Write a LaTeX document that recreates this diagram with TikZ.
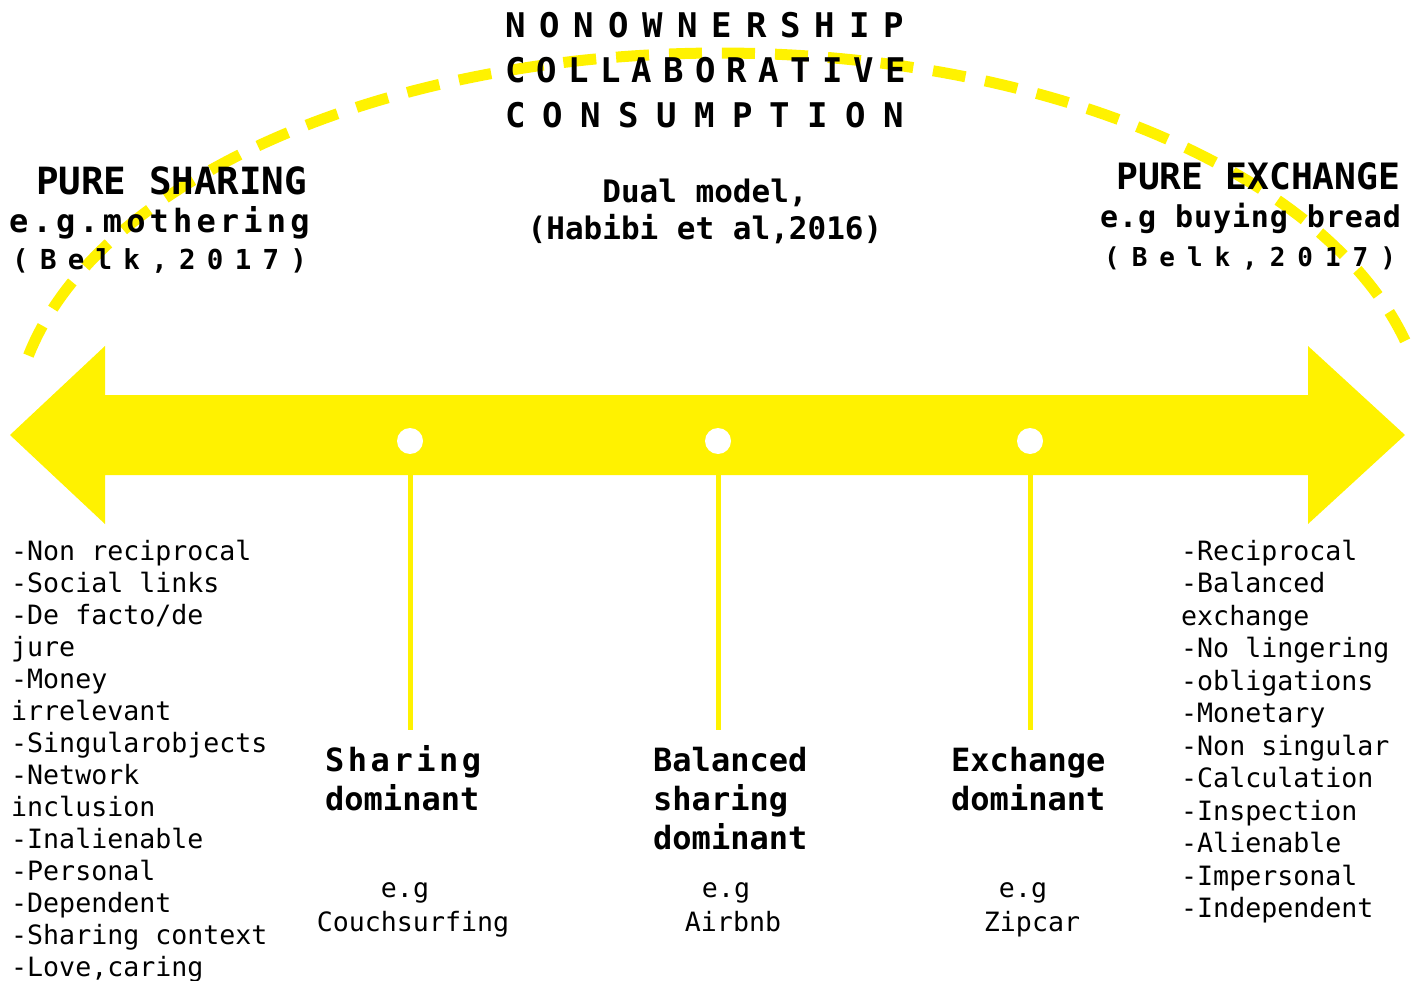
\documentclass[tikz,border=0pt]{standalone}
\usepackage{fontspec}
\setmonofont{DejaVu Sans Mono}
\usepackage{tikz}
\definecolor{bandyellow}{HTML}{FFF200}
\newcommand{\monoset}[2]{\fontsize{#1}{#1}\selectfont\addfontfeatures{LetterSpace=#2}}

\begin{document}
\begin{tikzpicture}[x=1pt,y=-1pt,
  txt/.style={inner sep=0pt,anchor=base west},
  listtext/.style={txt,font=\ttfamily\monoset{26.6}{0}},
  marktext/.style={txt,font=\ttfamily\bfseries\monoset{32}{0}},
  extext/.style={inner sep=0pt,anchor=base,font=\ttfamily\monoset{26.6}{0}}]
\useasboundingbox (0,0) rectangle (1421,981);

% dashed arc
\draw[bandyellow,line width=11pt,dash pattern=on 33pt off 20pt]
  plot[domain=12:168,samples=150] ({720-707*cos(\x)},{435-382*sin(\x)});

% double arrow
\fill[bandyellow] (10,435) -- (105,346) -- (105,395) -- (1308,395) -- (1308,346)
  -- (1405,435) -- (1308,524) -- (1308,475) -- (105,475) -- (105,524) -- cycle;

\foreach \x/\n in {410/s,718/b,1030/e}{
  \node[circle,fill=white,inner sep=0pt,minimum size=26pt] (dot\n) at (\x,441) {};
  \coordinate (end\n) at (\x,730);
  \draw[bandyellow,line width=5pt] (dot\n.south) -- (end\n);
}

% title
\node[txt,font=\ttfamily\bfseries\monoset{34}{41}] (own) at (505,38) {NONOWNERSHIP};
\node[txt,font=\ttfamily\bfseries\monoset{34}{33}] (coll) at (505,83) {COLLABORATIVE};
\node[txt,font=\ttfamily\bfseries\monoset{34}{51}] (cons) at (505,128) {CONSUMPTION};
\node[inner sep=0pt,anchor=base,font=\ttfamily\bfseries\monoset{31}{0}] (dual) at (705,203) {Dual model,};
\node[inner sep=0pt,anchor=base,font=\ttfamily\bfseries\monoset{31}{0}] (habibi) at (705,240) {(Habibi et al,2016)};

% pure sharing
\node[txt,font=\ttfamily\bfseries\monoset{37.5}{0}] (psh) at (36,195) {PURE SHARING};
\node[txt,font=\ttfamily\bfseries\monoset{32}{13}] (moth) at (9,233) {e.g.mothering};
\node[txt,font=\ttfamily\bfseries\monoset{27.5}{41}] (belkl) at (12,270) {(Belk,2017)};

% pure exchange
\node[txt,font=\ttfamily\bfseries\monoset{36.3}{0}] (pex) at (1116,190) {PURE EXCHANGE};
\node[txt,font=\ttfamily\bfseries\monoset{30}{3}] (bread) at (1100,228) {e.g buying bread};
\node[txt,font=\ttfamily\bfseries\monoset{26}{46}] (belkr) at (1104,267) {(Belk,2017)};

% markers
\node[txt,font=\ttfamily\bfseries\monoset{32}{11}] (sd1) at (325,771) {Sharing};
\node[marktext] (sd2) at (325,810) {dominant};
\node[marktext] (bd1) at (653,771) {Balanced};
\node[marktext] (bd2) at (653,810) {sharing};
\node[marktext] (bd3) at (653,849) {dominant};
\node[marktext] (ed1) at (951,771) {Exchange};
\node[marktext] (ed2) at (951,810) {dominant};

\node[extext] (seg) at (405,897) {e.g};
\node[extext] (sex) at (413,931) {Couchsurfing};
\node[extext] (beg) at (726,897) {e.g};
\node[extext] (bex) at (733,931) {Airbnb};
\node[extext] (eeg) at (1023,897) {e.g};
\node[extext] (eex) at (1032,931) {Zipcar};

% lists
\foreach \t [count=\i from 0] in {-Non reciprocal,-Social links,-De facto/de,jure,-Money,
  irrelevant,-Singularobjects,-Network,inclusion,-Inalienable,-Personal,-Dependent,
  -Sharing context,{-Love,caring}}
  \node[listtext] (sl\i) at (11,560+32*\i) {\t};
\foreach \t [count=\i from 0] in {-Reciprocal,-Balanced,exchange,-No lingering,
  -obligations,-Monetary,-Non singular,-Calculation,-Inspection,-Alienable,
  -Impersonal,-Independent}
  \node[listtext] (el\i) at (1181,560+32.5*\i) {\t};
\end{tikzpicture}
\end{document}
